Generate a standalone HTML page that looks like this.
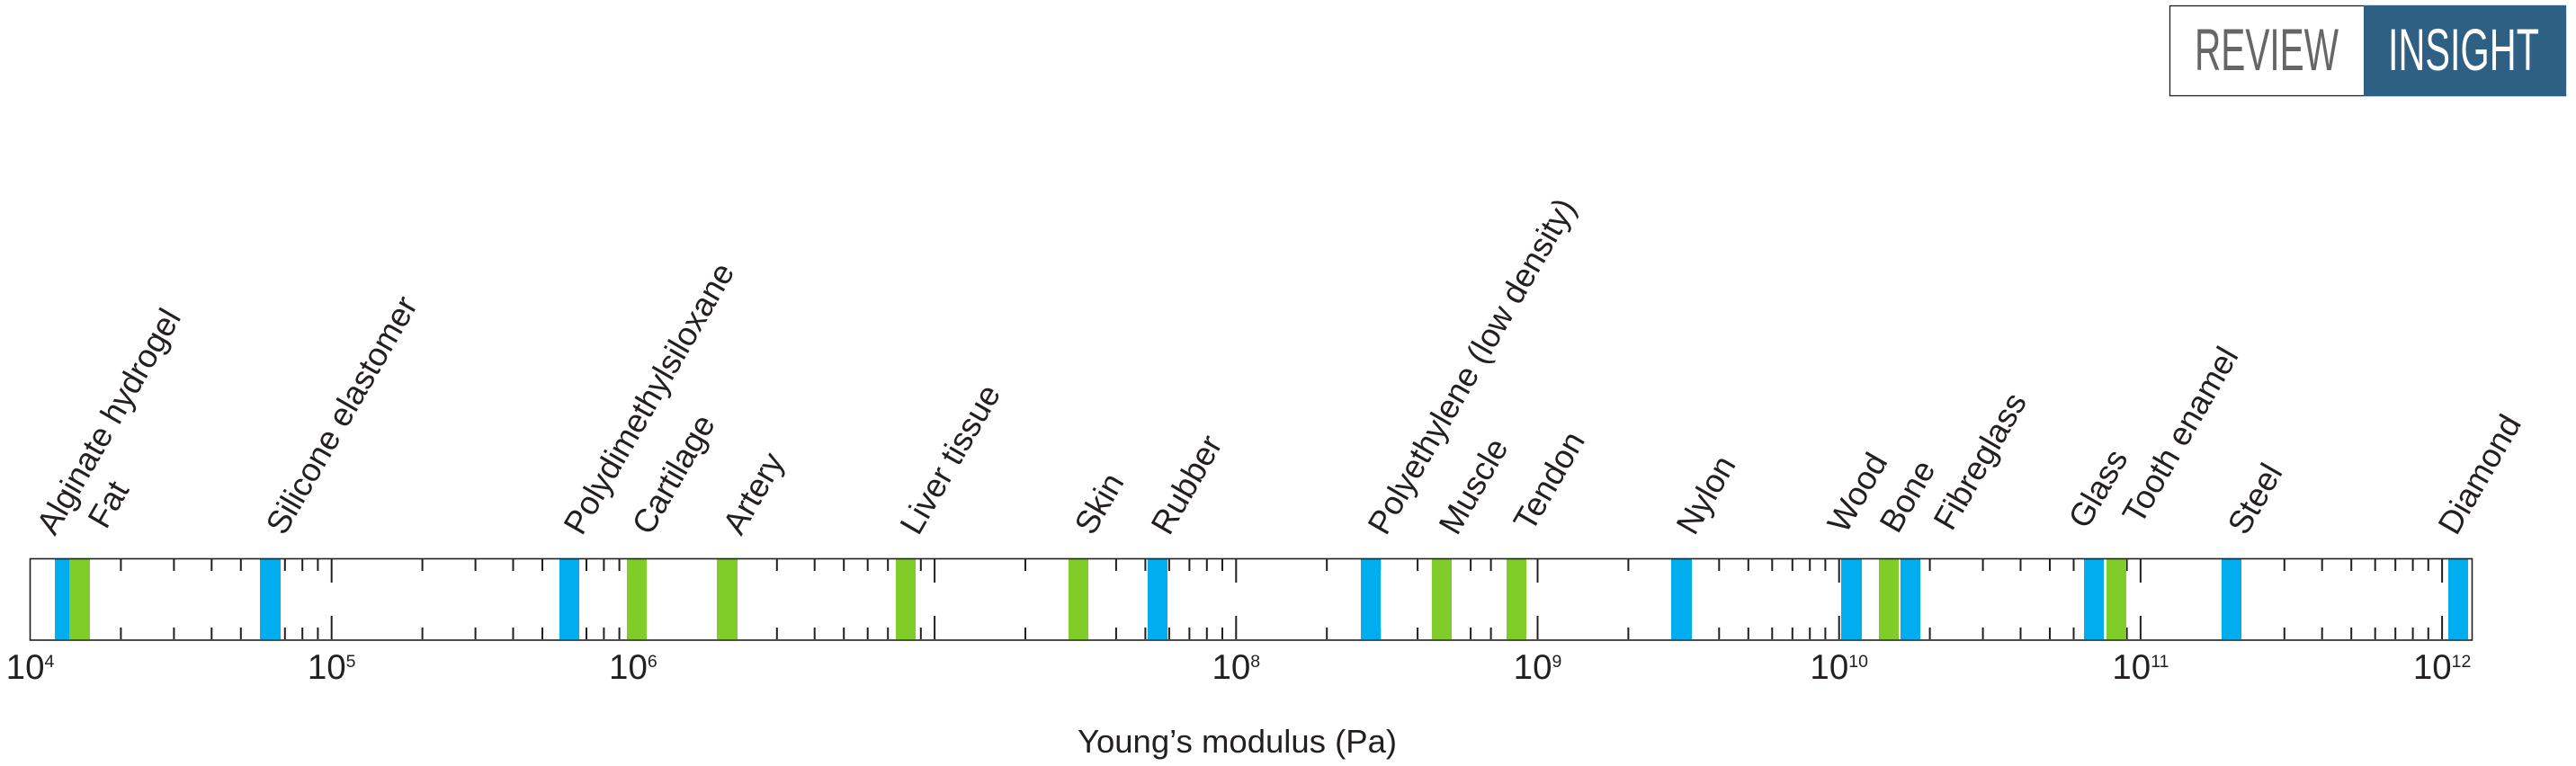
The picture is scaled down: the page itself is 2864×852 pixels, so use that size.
<!DOCTYPE html>
<html>
<head>
<meta charset="utf-8">
<style>
  html, body { margin: 0; padding: 0; background: #ffffff; }
  svg { display: block; }
  text { font-family: "Liberation Sans", "DejaVu Sans", sans-serif; fill: #231f20; }
</style>
</head>
<body>
<svg width="2864" height="852" viewBox="0 0 2864 852" xmlns="http://www.w3.org/2000/svg">
  <rect x="0" y="0" width="2864" height="852" fill="#ffffff"/>

  <!-- Logo -->
  <rect x="2412.5" y="6.5" width="440" height="100" fill="#ffffff" stroke="#231f20" stroke-width="1.3"/>
  <rect x="2628" y="6" width="225" height="101" fill="#2e6084"/>
  <text x="2440" y="78" font-size="66" textLength="160" lengthAdjust="spacingAndGlyphs" style="fill:#666666">REVIEW</text>
  <text x="2655" y="78" font-size="66" textLength="168" lengthAdjust="spacingAndGlyphs" style="fill:#ffffff">INSIGHT</text>

  <!-- Minor ticks (top and bottom) -->
  <path stroke="#231f20" stroke-width="2" fill="none" d="
    M134.4 622V635 M193.4 622V635 M235.3 622V635 M267.8 622V635 M294.3 622V635 M316.8 622V635 M336.2 622V635 M353.4 622V635
    M469.6 622V635 M528.6 622V635 M570.5 622V635 M603.0 622V635 M629.5 622V635 M652.0 622V635 M671.4 622V635 M688.6 622V635
    M804.8 622V635 M863.8 622V635 M905.7 622V635 M938.2 622V635 M964.7 622V635 M987.2 622V635 M1006.6 622V635 M1023.8 622V635
    M1140.0 622V635 M1199.0 622V635 M1240.9 622V635 M1273.4 622V635 M1299.9 622V635 M1322.4 622V635 M1341.8 622V635 M1359.0 622V635
    M1475.2 622V635 M1534.2 622V635 M1576.1 622V635 M1608.6 622V635 M1635.1 622V635 M1657.6 622V635 M1677.0 622V635 M1694.2 622V635
    M1810.4 622V635 M1869.4 622V635 M1911.3 622V635 M1943.8 622V635 M1970.3 622V635 M1992.8 622V635 M2012.2 622V635 M2029.4 622V635
    M2145.6 622V635 M2204.6 622V635 M2246.5 622V635 M2279.0 622V635 M2305.5 622V635 M2328.0 622V635 M2347.4 622V635 M2364.6 622V635
    M2480.8 622V635 M2539.8 622V635 M2581.7 622V635 M2614.2 622V635 M2640.7 622V635 M2663.2 622V635 M2682.6 622V635 M2699.8 622V635
    M134.4 698V711 M193.4 698V711 M235.3 698V711 M267.8 698V711 M294.3 698V711 M316.8 698V711 M336.2 698V711 M353.4 698V711
    M469.6 698V711 M528.6 698V711 M570.5 698V711 M603.0 698V711 M629.5 698V711 M652.0 698V711 M671.4 698V711 M688.6 698V711
    M804.8 698V711 M863.8 698V711 M905.7 698V711 M938.2 698V711 M964.7 698V711 M987.2 698V711 M1006.6 698V711 M1023.8 698V711
    M1140.0 698V711 M1199.0 698V711 M1240.9 698V711 M1273.4 698V711 M1299.9 698V711 M1322.4 698V711 M1341.8 698V711 M1359.0 698V711
    M1475.2 698V711 M1534.2 698V711 M1576.1 698V711 M1608.6 698V711 M1635.1 698V711 M1657.6 698V711 M1677.0 698V711 M1694.2 698V711
    M1810.4 698V711 M1869.4 698V711 M1911.3 698V711 M1943.8 698V711 M1970.3 698V711 M1992.8 698V711 M2012.2 698V711 M2029.4 698V711
    M2145.6 698V711 M2204.6 698V711 M2246.5 698V711 M2279.0 698V711 M2305.5 698V711 M2328.0 698V711 M2347.4 698V711 M2364.6 698V711
    M2480.8 698V711 M2539.8 698V711 M2581.7 698V711 M2614.2 698V711 M2640.7 698V711 M2663.2 698V711 M2682.6 698V711 M2699.8 698V711
  "/>
  <!-- Major ticks -->
  <path stroke="#231f20" stroke-width="2" fill="none" d="
    M368.7 622V648 M703.9 622V648 M1039.1 622V648 M1374.3 622V648 M1709.5 622V648 M2044.7 622V648 M2379.9 622V648 M2715.1 622V648
    M368.7 685V711 M703.9 685V711 M1039.1 685V711 M1374.3 685V711 M1709.5 685V711 M2044.7 685V711 M2379.9 685V711 M2715.1 685V711
  "/>

  <!-- Bars -->
  <g>
    <rect x="61" y="622" width="22" height="89" fill="#00aeef"/>
    <rect x="77" y="622" width="23" height="89" fill="#80cc28"/>
    <rect x="289" y="622" width="23" height="89" fill="#00aeef"/>
    <rect x="622" y="622" width="22" height="89" fill="#00aeef"/>
    <rect x="697" y="622" width="22" height="89" fill="#80cc28"/>
    <rect x="797" y="622" width="23" height="89" fill="#80cc28"/>
    <rect x="996" y="622" width="22" height="89" fill="#80cc28"/>
    <rect x="1188" y="622" width="22" height="89" fill="#80cc28"/>
    <rect x="1276" y="622" width="22" height="89" fill="#00aeef"/>
    <rect x="1513" y="622" width="22" height="89" fill="#00aeef"/>
    <rect x="1592" y="622" width="22" height="89" fill="#80cc28"/>
    <rect x="1675" y="622" width="22" height="89" fill="#80cc28"/>
    <rect x="1858" y="622" width="23" height="89" fill="#00aeef"/>
    <rect x="2047" y="622" width="23" height="89" fill="#00aeef"/>
    <rect x="2089" y="622" width="22" height="89" fill="#80cc28"/>
    <rect x="2113" y="622" width="22" height="89" fill="#00aeef"/>
    <rect x="2317" y="622" width="22" height="89" fill="#00aeef"/>
    <rect x="2342" y="622" width="22" height="89" fill="#80cc28"/>
    <rect x="2470" y="622" width="22" height="89" fill="#00aeef"/>
    <rect x="2722" y="622" width="22" height="89" fill="#00aeef"/>
  </g>

  <!-- Box border -->
  <rect x="33.5" y="621.5" width="2715" height="90.5" fill="none" stroke="#231f20" stroke-width="1.6"/>

  <!-- Tick labels -->
  <g font-size="38.5" text-anchor="middle">
    <text x="33.5" y="755">10<tspan font-size="19.5" dy="-13">4</tspan></text>
    <text x="368.7" y="755">10<tspan font-size="19.5" dy="-13">5</tspan></text>
    <text x="703.9" y="755">10<tspan font-size="19.5" dy="-13">6</tspan></text>
    <text x="1374.3" y="755">10<tspan font-size="19.5" dy="-13">8</tspan></text>
    <text x="1709.5" y="755">10<tspan font-size="19.5" dy="-13">9</tspan></text>
    <text x="2044.7" y="755">10<tspan font-size="19.5" dy="-13">10</tspan></text>
    <text x="2379.9" y="755">10<tspan font-size="19.5" dy="-13">11</tspan></text>
    <text x="2715.1" y="755">10<tspan font-size="19.5" dy="-13">12</tspan></text>
  </g>

  <!-- Axis title -->
  <text x="1375.5" y="837" font-size="36.5" text-anchor="middle">Young’s modulus (Pa)</text>

  <!-- Rotated material labels -->
  <g font-size="36.5">
    <text transform="translate(61,597) rotate(-60)">Alginate hydrogel</text>
    <text transform="translate(118,590) rotate(-60)">Fat</text>
    <text transform="translate(316,597) rotate(-60)">Silicone elastomer</text>
    <text transform="translate(647,597) rotate(-60)">Polydimethylsiloxane</text>
    <text transform="translate(723,597) rotate(-60)">Cartilage</text>
    <text transform="translate(824,597) rotate(-60)">Artery</text>
    <text transform="translate(1021,597) rotate(-60)">Liver tissue</text>
    <text transform="translate(1215,597) rotate(-60)">Skin</text>
    <text transform="translate(1300,597) rotate(-60)">Rubber</text>
    <text transform="translate(1541,597) rotate(-60)">Polyethylene (low density)</text>
    <text transform="translate(1620,597) rotate(-60)">Muscle</text>
    <text transform="translate(1703,593) rotate(-60)">Tendon</text>
    <text transform="translate(1884,597) rotate(-60)">Nylon</text>
    <text transform="translate(2052,595) rotate(-60)">Wood</text>
    <text transform="translate(2110,595) rotate(-60)">Bone</text>
    <text transform="translate(2170,592) rotate(-60)">Fibreglass</text>
    <text transform="translate(2320,590) rotate(-60)">Glass</text>
    <text transform="translate(2380,585) rotate(-60)">Tooth enamel</text>
    <text transform="translate(2497,597) rotate(-60)">Steel</text>
    <text transform="translate(2731,597) rotate(-60)">Diamond</text>
  </g>
</svg>
</body>
</html>
